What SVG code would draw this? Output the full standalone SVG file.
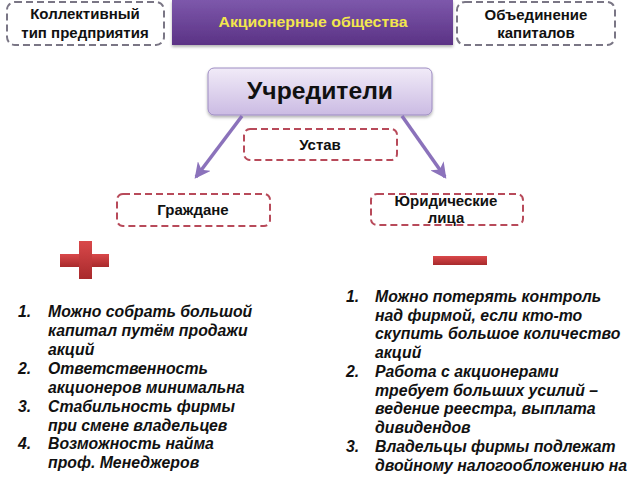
<svg xmlns="http://www.w3.org/2000/svg" width="640" height="480" viewBox="0 0 640 480">
<defs>
<linearGradient id="gPurple" x1="0" y1="0" x2="0" y2="1"><stop offset="0" stop-color="#7d58ab"/><stop offset="1" stop-color="#5b3285"/></linearGradient>
<linearGradient id="gLav" x1="0" y1="0" x2="0" y2="1"><stop offset="0" stop-color="#f1ebf8"/><stop offset="1" stop-color="#cbbbe3"/></linearGradient>
<linearGradient id="gRed" x1="0" y1="0" x2="0" y2="1"><stop offset="0" stop-color="#d9484a"/><stop offset="1" stop-color="#a82a2c"/></linearGradient>
<marker id="arr" markerWidth="16" markerHeight="16" refX="12" refY="7" orient="auto" markerUnits="userSpaceOnUse" viewBox="0 0 14 14"><path d="M0,0 L14,7 L0,14 L4,7 Z" fill="#8b72bb"/></marker>
<filter id="sh" x="-10%" y="-10%" width="120%" height="140%"><feDropShadow dx="0" dy="2" stdDeviation="1.5" flood-color="#000" flood-opacity="0.3"/></filter>
</defs>
<style>
.gd{fill:#fff;stroke:#7a7685;stroke-width:2;stroke-dasharray:7,4}
.rd{fill:#fff;stroke:#b84a5a;stroke-width:2;stroke-dasharray:7,4}
.t{font-family:"Liberation Sans",Arial,sans-serif;font-weight:bold;fill:#111;text-anchor:middle}
.li{font-family:"Liberation Sans",Arial,sans-serif;font-weight:bold;font-style:italic;fill:#111;font-size:15.8px}
.con{stroke:#8b72bb;stroke-width:3.5;fill:none}
</style>
<g id="n-collective"><rect class="gd" x="7" y="2" width="157" height="43" rx="8"/><text class="t" font-size="15" x="85" y="19">Коллективный</text><text class="t" font-size="15" x="85" y="38">тип предприятия</text></g>
<g id="n-ao"><rect x="172" y="0" width="281" height="45" fill="url(#gPurple)" filter="url(#sh)"/><text class="t" font-size="15.5" x="313" y="27" textLength="189" lengthAdjust="spacingAndGlyphs" style="fill:#f3e64d">Акционерные общества</text></g>
<g id="n-union"><rect class="gd" x="457" y="2" width="158" height="43" rx="8"/><text class="t" font-size="15" x="536" y="20">Объединение</text><text class="t" font-size="15" x="536" y="38">капиталов</text></g>
<g id="n-founders"><rect x="208" y="68" width="224" height="47" rx="6" fill="url(#gLav)" stroke="#9d8cc2" stroke-width="1" filter="url(#sh)"/><text class="t" font-size="23" x="320" y="99" textLength="146" lengthAdjust="spacingAndGlyphs">Учредители</text></g>
<g id="connectors"><line class="con" x1="242" y1="116" x2="196" y2="177" marker-end="url(#arr)"/><line class="con" x1="402" y1="116" x2="445" y2="177" marker-end="url(#arr)"/></g>
<g id="n-ustav"><rect class="rd" x="244" y="129" width="153" height="31" rx="6"/><text class="t" font-size="15" x="320" y="150">Устав</text></g>
<g id="n-citizens"><rect class="rd" x="117" y="194" width="153" height="32" rx="6"/><text class="t" font-size="15" x="193" y="215">Граждане</text></g>
<g id="n-legal"><rect class="rd" x="371" y="194" width="152" height="31" rx="6"/><text class="t" font-size="15" x="446" y="206">Юридические</text><text class="t" font-size="15" x="446" y="223">лица</text></g>
<g id="plus"><rect x="60" y="254" width="49" height="13" fill="url(#gRed)"/><rect x="79" y="241" width="13" height="38" fill="url(#gRed)"/></g>
<g id="minus"><rect x="433" y="256" width="54" height="9" fill="url(#gRed)"/></g>
<g id="pros">
<text class="li" x="18" y="317">1.</text><text class="li" x="48" y="317">Можно собрать большой</text>
<text class="li" x="48" y="336">капитал путём продажи</text>
<text class="li" x="48" y="355">акций</text>
<text class="li" x="18" y="374">2.</text><text class="li" x="48" y="374">Ответственность</text>
<text class="li" x="48" y="393">акционеров минимальна</text>
<text class="li" x="18" y="412">3.</text><text class="li" x="48" y="412">Стабильность фирмы</text>
<text class="li" x="48" y="431">при смене владельцев</text>
<text class="li" x="18" y="449">4.</text><text class="li" x="48" y="449">Возможность найма</text>
<text class="li" x="48" y="468">проф. Менеджеров</text>
</g>
<g id="cons">
<text class="li" x="346" y="302">1.</text><text class="li" x="375" y="302">Можно потерять контроль</text>
<text class="li" x="375" y="321">над фирмой, если кто-то</text>
<text class="li" x="375" y="339">скупить большое количество</text>
<text class="li" x="375" y="358">акций</text>
<text class="li" x="346" y="377">2.</text><text class="li" x="375" y="377">Работа с акционерами</text>
<text class="li" x="375" y="396">требует больших усилий –</text>
<text class="li" x="375" y="414">ведение реестра, выплата</text>
<text class="li" x="375" y="433">дивидендов</text>
<text class="li" x="346" y="452">3.</text><text class="li" x="375" y="452">Владельцы фирмы подлежат</text>
<text class="li" x="375" y="471">двойному налогообложению на</text>
</g>
</svg>
